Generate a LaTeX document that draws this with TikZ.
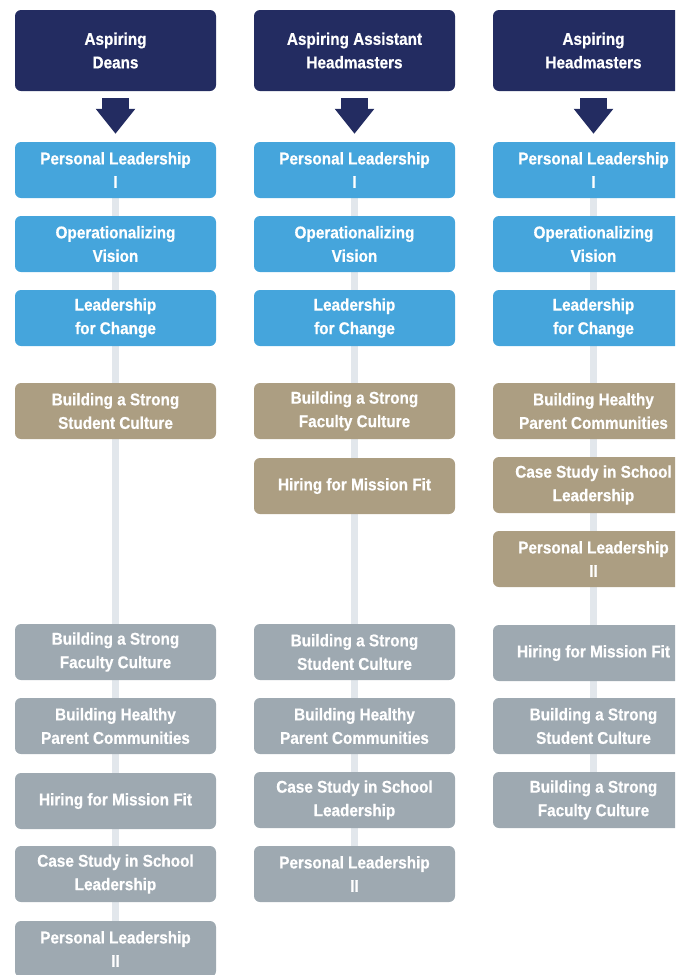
\documentclass[tikz,border=0pt]{standalone}
\usepackage{fontspec}
\setmainfont{Liberation Sans Bold}[FakeStretch=0.9,FakeBold=0.6]
\usetikzlibrary{arrows.meta,backgrounds}
\definecolor{navy}{HTML}{232C61}
\definecolor{sky}{HTML}{45A5DC}
\definecolor{sand}{HTML}{AC9E82}
\definecolor{slate}{HTML}{9EA9B1}
\definecolor{rail}{HTML}{E2E7EC}

\begin{document}
\begin{tikzpicture}[x=1pt,y=-1pt,
    box/.style={rounded corners=6pt,minimum width=201pt,minimum height=56pt,inner sep=0pt,
      align=center,text=white,font=\fontsize{17}{23.5}\selectfont},
    head/.style={box,fill=navy,minimum height=81pt},
    core/.style={box,fill=sky},
    track/.style={box,fill=sand},
    later/.style={box,fill=slate},
    spine/.style={rail,line width=7pt},
    bigarrow/.style={navy,line width=27pt,-{Triangle[width=38pt,length=25pt]},shorten <=7pt,shorten >=8pt} ]
    \clip (0,0) rectangle (675,975);
    % Aspiring Deans
    \node[head] (dh) at (115.5,50.5) {Aspiring\\Deans};
    \node[core] (d1) at (115.5,170) {Personal Leadership\\I};
    \node[core] (d2) at (115.5,244) {Operationalizing\\Vision};
    \node[core] (d3) at (115.5,318) {Leadership\\for Change};
    \node[track] (d4) at (115.5,411) {Building a Strong\\Student Culture};
    \node[later] (d5) at (115.5,652) {Building a Strong\\Faculty Culture};
    \node[later] (d6) at (115.5,726) {Building Healthy\\Parent Communities};
    \node[later] (d7) at (115.5,801) {Hiring for Mission Fit};
    \node[later] (d8) at (115.5,874) {Case Study in School\\Leadership};
    \node[later] (d9) at (115.5,949) {Personal Leadership\\II};
    % Aspiring Assistant Headmasters
    \node[head] (ah) at (354.5,50.5) {Aspiring Assistant\\Headmasters};
    \node[core] (a1) at (354.5,170) {Personal Leadership\\I};
    \node[core] (a2) at (354.5,244) {Operationalizing\\Vision};
    \node[core] (a3) at (354.5,318) {Leadership\\for Change};
    \node[track] (a4) at (354.5,411) {Building a Strong\\Faculty Culture};
    \node[track] (a5) at (354.5,486) {Hiring for Mission Fit};
    \node[later] (a6) at (354.5,652) {Building a Strong\\Student Culture};
    \node[later] (a7) at (354.5,726) {Building Healthy\\Parent Communities};
    \node[later] (a8) at (354.5,800) {Case Study in School\\Leadership};
    \node[later] (a9) at (354.5,874) {Personal Leadership\\II};
    % Aspiring Headmasters
    \node[head] (mh) at (593.5,50.5) {Aspiring\\Headmasters};
    \node[core] (m1) at (593.5,170) {Personal Leadership\\I};
    \node[core] (m2) at (593.5,244) {Operationalizing\\Vision};
    \node[core] (m3) at (593.5,318) {Leadership\\for Change};
    \node[track] (m4) at (593.5,411) {Building Healthy\\Parent Communities};
    \node[track] (m5) at (593.5,485) {Case Study in School\\Leadership};
    \node[track] (m6) at (593.5,559) {Personal Leadership\\II};
    \node[later] (m7) at (593.5,653) {Hiring for Mission Fit};
    \node[later] (m8) at (593.5,726) {Building a Strong\\Student Culture};
    \node[later] (m9) at (593.5,800) {Building a Strong\\Faculty Culture};
    \begin{scope}[on background layer]
      \draw[spine] (d1) -- (d9);
      \draw[spine] (a1) -- (a9);
      \draw[spine] (m1) -- (m9);
    \end{scope}
    \foreach \c in {d,a,m}
      \draw[bigarrow] (\c h) -- (\c 1);
\end{tikzpicture}
\end{document}
